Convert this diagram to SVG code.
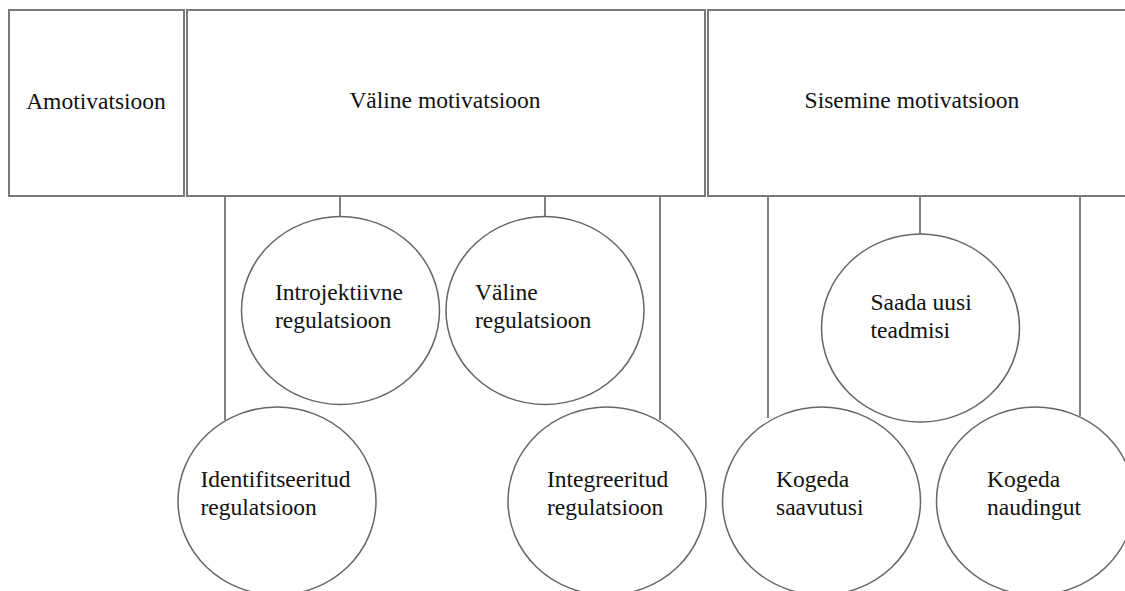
<svg xmlns="http://www.w3.org/2000/svg" width="1125" height="591" viewBox="0 0 1125 591">
<style>
.box{fill:#fff;stroke:#7a7a7a;stroke-width:2}
.node{fill:#fff;stroke:#666;stroke-width:1.5}
.conn line{stroke:#555;stroke-width:1.5}
text{font-family:"Liberation Serif","Times New Roman",serif;font-size:23.5px;fill:#111}
</style>
<rect width="1125" height="591" fill="#fff"/>
<g class="conn">
<line x1="225" y1="196" x2="225" y2="420"/>
<line x1="340" y1="196" x2="340" y2="217"/>
<line x1="545" y1="196" x2="545" y2="217"/>
<line x1="660" y1="196" x2="660" y2="420"/>
<line x1="768" y1="196" x2="768" y2="418"/>
<line x1="920" y1="196" x2="920" y2="234"/>
<line x1="1080" y1="196" x2="1080" y2="416"/>
</g>
<g id="amotivatsioon">
<rect class="box" x="9" y="10" width="175" height="186"/>
<text x="96" y="109" text-anchor="middle">Amotivatsioon</text>
</g>
<g id="valine-motivatsioon">
<rect class="box" x="187" y="10" width="518" height="186"/>
<text x="445" y="108" text-anchor="middle">Väline motivatsioon</text>
</g>
<g id="sisemine-motivatsioon">
<rect class="box" x="708" y="10" width="430" height="186"/>
<text x="912" y="108" text-anchor="middle">Sisemine motivatsioon</text>
</g>
<g id="introjektiivne">
<ellipse class="node" cx="340.5" cy="310.5" rx="99" ry="94"/>
<text x="275" y="300">Introjektiivne</text>
<text x="275" y="328">regulatsioon</text>
</g>
<g id="valine-regulatsioon">
<ellipse class="node" cx="545" cy="310.5" rx="99" ry="94"/>
<text x="475" y="300">Väline</text>
<text x="475" y="328">regulatsioon</text>
</g>
<g id="identifitseeritud">
<ellipse class="node" cx="277" cy="501" rx="99" ry="94"/>
<text x="200.5" y="487">Identifitseeritud</text>
<text x="200.5" y="515">regulatsioon</text>
</g>
<g id="integreeritud">
<ellipse class="node" cx="607" cy="501" rx="99" ry="94"/>
<text x="547" y="487">Integreeritud</text>
<text x="547" y="515">regulatsioon</text>
</g>
<g id="saada-uusi-teadmisi">
<ellipse class="node" cx="920.5" cy="328" rx="99" ry="94"/>
<text x="870.5" y="310">Saada uusi</text>
<text x="870.5" y="338">teadmisi</text>
</g>
<g id="kogeda-saavutusi">
<ellipse class="node" cx="821.5" cy="501" rx="99" ry="94"/>
<text x="776" y="487">Kogeda</text>
<text x="776" y="515">saavutusi</text>
</g>
<g id="kogeda-naudingut">
<ellipse class="node" cx="1035.5" cy="501" rx="99" ry="94"/>
<text x="987" y="487">Kogeda</text>
<text x="987" y="515">naudingut</text>
</g>
</svg>
